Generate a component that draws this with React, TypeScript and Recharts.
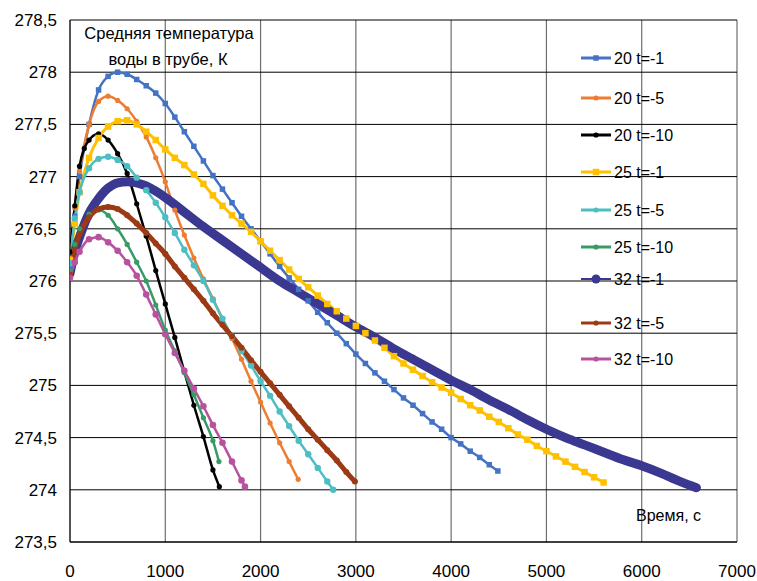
import React from "react";
import { LineChart, Line, XAxis, YAxis, CartesianGrid } from "recharts";

// values, [time s, temperature K]
const s20m1: [number, number][] = [
  [0, 276.13], [50, 276.62], [100, 277.0], [200, 277.5], [300, 277.83], [400, 277.96], [500, 278.0],
  [600, 277.98], [700, 277.93], [800, 277.87], [900, 277.8], [1000, 277.7], [1100, 277.57], [1200, 277.43],
  [1300, 277.29], [1400, 277.15], [1500, 277.01], [1600, 276.88], [1700, 276.75], [1800, 276.62],
  [1900, 276.5], [2000, 276.38], [2100, 276.26], [2200, 276.14], [2300, 276.03], [2400, 275.92],
  [2500, 275.81], [2600, 275.7], [2700, 275.6], [2800, 275.5], [2900, 275.4], [3000, 275.3],
  [3100, 275.21], [3200, 275.12], [3300, 275.04], [3400, 274.96], [3500, 274.88], [3600, 274.81],
  [3700, 274.73], [3800, 274.65], [3900, 274.58], [4000, 274.5], [4100, 274.44], [4200, 274.37],
  [4300, 274.31], [4400, 274.24], [4490, 274.18],
];
const s20m5: [number, number][] = [
  [0, 276.22], [50, 276.7], [100, 277.05], [200, 277.5], [300, 277.72], [400, 277.77], [500, 277.73],
  [600, 277.65], [700, 277.53], [800, 277.38], [900, 277.18], [1000, 276.95], [1100, 276.68],
  [1200, 276.44], [1300, 276.22], [1400, 276.02], [1500, 275.83], [1600, 275.64], [1700, 275.45],
  [1800, 275.25], [1900, 275.04], [2000, 274.84], [2100, 274.64], [2200, 274.45], [2300, 274.27],
  [2395, 274.1],
];
const s20m10: [number, number][] = [
  [0, 276.28], [50, 276.72], [100, 277.1], [150, 277.27], [200, 277.35], [300, 277.41], [400, 277.35],
  [500, 277.22], [600, 277.03], [700, 276.74], [800, 276.43], [900, 276.1], [1000, 275.78],
  [1100, 275.46], [1200, 275.13], [1300, 274.81], [1400, 274.51], [1500, 274.19], [1567, 274.03],
];
const s25m1: [number, number][] = [
  [0, 276.2], [50, 276.55], [100, 276.85], [200, 277.18], [300, 277.37], [400, 277.48], [500, 277.53],
  [600, 277.54], [700, 277.5], [800, 277.43], [900, 277.35], [1000, 277.26], [1100, 277.18],
  [1200, 277.11], [1300, 277.02], [1400, 276.93], [1500, 276.82], [1600, 276.72], [1700, 276.63],
  [1800, 276.55], [1900, 276.47], [2000, 276.38], [2100, 276.29], [2200, 276.2], [2300, 276.11],
  [2400, 276.02], [2500, 275.94], [2600, 275.86], [2700, 275.78], [2800, 275.71], [2900, 275.64],
  [3000, 275.57], [3100, 275.5], [3200, 275.43], [3300, 275.36], [3400, 275.28], [3500, 275.21],
  [3600, 275.15], [3700, 275.09], [3800, 275.03], [3900, 274.98], [4000, 274.93], [4100, 274.87],
  [4200, 274.81], [4300, 274.76], [4400, 274.7], [4500, 274.65], [4600, 274.59], [4700, 274.53],
  [4800, 274.48], [4900, 274.42], [5000, 274.37], [5100, 274.32], [5200, 274.27], [5300, 274.22],
  [5400, 274.17], [5500, 274.12], [5600, 274.07],
];
const s25m5: [number, number][] = [
  [0, 276.17], [50, 276.6], [100, 276.85], [200, 277.08], [300, 277.17], [400, 277.19], [500, 277.16],
  [600, 277.1], [700, 276.99], [800, 276.87], [900, 276.75], [1000, 276.61], [1100, 276.46],
  [1200, 276.3], [1300, 276.15], [1400, 276.0], [1500, 275.82], [1600, 275.64], [1700, 275.47],
  [1800, 275.33], [1900, 275.19], [2000, 275.04], [2100, 274.9], [2200, 274.75], [2300, 274.61],
  [2400, 274.47], [2500, 274.34], [2600, 274.21], [2700, 274.08], [2762, 274.0],
];
const s25m10: [number, number][] = [
  [0, 276.1], [50, 276.35], [100, 276.5], [200, 276.64], [300, 276.68], [400, 276.63], [500, 276.5],
  [600, 276.35], [700, 276.18], [800, 276.0], [900, 275.77], [1000, 275.53], [1100, 275.33],
  [1200, 275.12], [1300, 274.91], [1400, 274.69], [1500, 274.47], [1563, 274.27],
];
const s32m1: [number, number][] = [
  [0, 276.07], [50, 276.28], [100, 276.42], [200, 276.65], [300, 276.79], [400, 276.89], [500, 276.94],
  [600, 276.95], [700, 276.94], [800, 276.91], [900, 276.86], [1000, 276.8], [1200, 276.66],
  [1400, 276.52], [1600, 276.39], [1800, 276.26], [2000, 276.13], [2200, 276.0], [2400, 275.89],
  [2600, 275.78], [2800, 275.67], [3000, 275.56], [3200, 275.46], [3400, 275.35], [3600, 275.25],
  [3800, 275.15], [4000, 275.05], [4200, 274.96], [4400, 274.86], [4600, 274.77], [4800, 274.67],
  [5000, 274.58], [5200, 274.5], [5400, 274.43], [5600, 274.36], [5800, 274.29], [6000, 274.23],
  [6200, 274.16], [6400, 274.08], [6574, 274.02],
];
const s32m5: [number, number][] = [
  [0, 276.06], [50, 276.3], [100, 276.45], [200, 276.61], [300, 276.69], [400, 276.71], [500, 276.69],
  [600, 276.63], [700, 276.55], [800, 276.46], [900, 276.36], [1000, 276.26], [1100, 276.14],
  [1200, 276.03], [1300, 275.92], [1400, 275.81], [1500, 275.69], [1600, 275.58], [1700, 275.47],
  [1800, 275.36], [1900, 275.24], [2000, 275.13], [2100, 275.02], [2200, 274.91], [2300, 274.8],
  [2400, 274.69], [2500, 274.58], [2600, 274.48], [2700, 274.38], [2800, 274.28], [2900, 274.17],
  [2990, 274.08],
];
const s32m10: [number, number][] = [
  [0, 276.03], [50, 276.18], [100, 276.28], [200, 276.4], [300, 276.42], [400, 276.37], [500, 276.29],
  [600, 276.18], [700, 276.05], [800, 275.87], [900, 275.68], [1000, 275.49], [1100, 275.31],
  [1200, 275.14], [1300, 274.97], [1400, 274.8], [1500, 274.62], [1600, 274.45], [1700, 274.27],
  [1800, 274.09], [1836, 274.03],
];

const xTicks = [0, 1000, 2000, 3000, 4000, 5000, 6000, 7000];
const yTicks = [273.5, 274, 274.5, 275, 275.5, 276, 276.5, 277, 277.5, 278, 278.5];

const FONT = "'Liberation Sans', Arial, sans-serif";

type Marker = "square" | "circle" | "none";
type Series = {
  name: string; pts: [number, number][]; color: string;
  width: number; marker: Marker; size: number; legendY: number;
};

const series: Series[] = [
  { name: "20 t=-1", pts: s20m1, color: "#4472C4", width: 2.5, marker: "square", size: 5.5, legendY: 58 },
  { name: "20 t=-5", pts: s20m5, color: "#ED7D31", width: 2.5, marker: "circle", size: 2.6, legendY: 98 },
  { name: "20 t=-10", pts: s20m10, color: "#000000", width: 2.5, marker: "circle", size: 2.6, legendY: 135 },
  { name: "25 t=-1", pts: s25m1, color: "#FFC000", width: 3, marker: "square", size: 6.5, legendY: 172 },
  { name: "25 t=-5", pts: s25m5, color: "#4DBEC3", width: 2.5, marker: "circle", size: 3.2, legendY: 210 },
  { name: "25 t=-10", pts: s25m10, color: "#389A66", width: 2.5, marker: "circle", size: 2.6, legendY: 247 },
  { name: "32 t=-1", pts: s32m1, color: "#3A3890", width: 9, marker: "none", size: 4.5, legendY: 279 },
  { name: "32 t=-5", pts: s32m5, color: "#9C3A16", width: 5, marker: "circle", size: 3, legendY: 323 },
  { name: "32 t=-10", pts: s32m10, color: "#B8529E", width: 2.5, marker: "circle", size: 3.3, legendY: 359 },
];

const fmt = (v: number) => String(v).replace(".", ",");

const XTick = (props: any) => (
  <text x={props.x} y={577} textAnchor="middle" fontSize={17} fontFamily={FONT} fill="#000">
    {fmt(props.payload.value)}
  </text>
);

const YTick = (props: any) => (
  <text x={57} y={props.y} dy={6} textAnchor="end" fontSize={17} fontFamily={FONT} fill="#000">
    {fmt(props.payload.value)}
  </text>
);

function makeDot(s: Series) {
  if (s.marker === "none") return false;
  return (p: any) => {
    if (p.cx == null || p.cy == null) return <g key={p.index} />;
    if (s.marker === "square") {
      return (
        <rect key={p.index} x={p.cx - s.size / 2} y={p.cy - s.size / 2}
          width={s.size} height={s.size} fill={s.color} />
      );
    }
    return <circle key={p.index} cx={p.cx} cy={p.cy} r={s.size} fill={s.color} />;
  };
}

export default function App() {
  return (
    <div style={{ position: "absolute", left: 0, top: 0, width: 757, height: 581, background: "#fff" }}>
      <LineChart width={757} height={581} margin={{ top: 20, right: 20, bottom: 0, left: 0 }}>
        <CartesianGrid horizontal={false} stroke="#6e6e6e" strokeWidth={1.2} />
        <CartesianGrid vertical={false} stroke="#000" strokeWidth={1} />
        <XAxis type="number" dataKey="t" domain={[0, 7000]} ticks={xTicks} height={39}
          axisLine={{ stroke: "#000" }} tickLine={false} tick={<XTick />} allowDataOverflow />
        <YAxis type="number" domain={[273.5, 278.5]} ticks={yTicks} width={70}
          axisLine={{ stroke: "#000" }} tickLine={false} tick={<YTick />} allowDataOverflow />
        {series.map((s) => (
          <Line key={s.name} name={s.name} data={s.pts.map(([t, v]) => ({ t, v }))} dataKey="v"
            type="monotone" stroke={s.color} strokeWidth={s.width} strokeLinecap="round"
            dot={makeDot(s)} activeDot={false} isAnimationActive={false} />
        ))}
      </LineChart>
      <svg width={757} height={581} style={{ position: "absolute", left: 0, top: 0, pointerEvents: "none" }}>
        <text x={169} y={39} textAnchor="middle" fontSize={16.5} fontFamily={FONT} fill="#000">
          Средняя температура
        </text>
        <text x={168} y={65} textAnchor="middle" fontSize={16.5} fontFamily={FONT} fill="#000">
          воды в трубе, К
        </text>
        <text x={636} y={521} fontSize={16} fontFamily={FONT} fill="#000">Время, с</text>
        {series.map((s) => (
          <g key={s.name}>
            <line x1={581} x2={611} y1={s.legendY} y2={s.legendY} stroke={s.color}
              strokeWidth={s.marker === "none" ? 2 : 3} />
            {s.marker === "square" ? (
              <rect x={596 - s.size / 2} y={s.legendY - s.size / 2} width={s.size} height={s.size} fill={s.color} />
            ) : (
              <circle cx={596} cy={s.legendY} r={s.marker === "none" ? 4.5 : 2.6} fill={s.color} />
            )}
            <text x={614} y={s.legendY + 6} fontSize={16} fontFamily={FONT} fill="#000">{s.name}</text>
          </g>
        ))}
      </svg>
    </div>
  );
}
